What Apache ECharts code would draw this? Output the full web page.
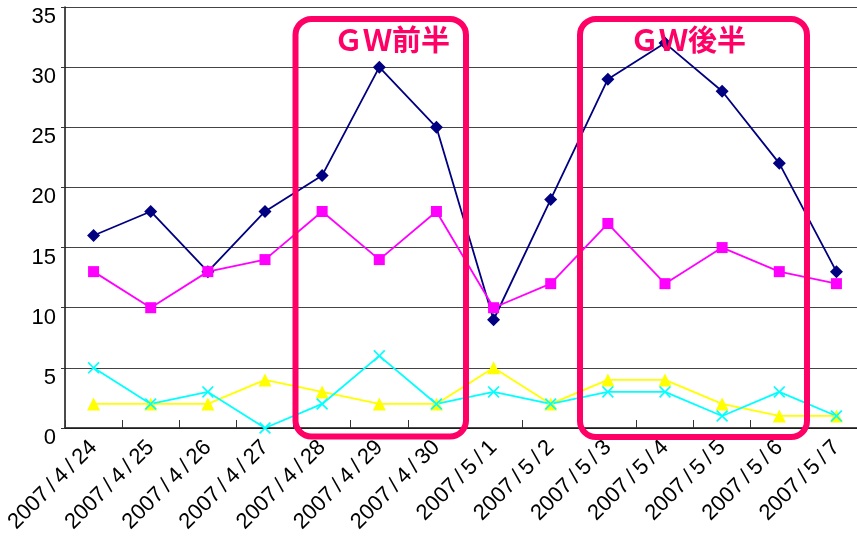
<!DOCTYPE html>
<html>
<head>
<meta charset="utf-8">
<script src="https://cdn.jsdelivr.net/npm/echarts@6/dist/echarts.min.js"></script>
<style>
  html, body { margin: 0; padding: 0; background: #fff; overflow: hidden; }
  #main { width: 865px; height: 542px; }
</style>
</head>
<body>
<div id="main"></div>
<script>
// categories
var days = ['2007/4/24', '2007/4/25', '2007/4/26', '2007/4/27', '2007/4/28', '2007/4/29', '2007/4/30',
            '2007/5/1', '2007/5/2', '2007/5/3', '2007/5/4', '2007/5/5', '2007/5/6', '2007/5/7'];
// series values
var navyVals    = [16, 18, 13, 18, 21, 30, 25, 9, 19, 29, 32, 28, 22, 13];
var magentaVals = [13, 10, 13, 14, 18, 14, 18, 10, 12, 17, 12, 15, 13, 12];
var yellowVals  = [2, 2, 2, 4, 3, 2, 2, 5, 2, 4, 4, 2, 1, 1];
var cyanVals    = [5, 2, 3, 0, 2, 6, 2, 3, 2, 3, 3, 1, 3, 1];
// y ticks
var yMin = 0, yMax = 35, yStep = 5;
// GW boxes
var gwLabels = ['ＧＷ前半', 'ＧＷ後半'];

var PINK = '#FF0066';
var xMark = 'path://M0,1L1,0L5,4L9,0L10,1L6,5L10,9L9,10L5,6L1,10L0,9L4,5Z';

// chart is 8px wider than the window: the plot runs off the right edge like the original
var myChart = echarts.init(document.getElementById('main'));

function lineSeries(name, data, color, symbol, size) {
  return {
    name: name,
    type: 'line',
    data: data,
    symbol: symbol,
    symbolSize: size,
    showSymbol: true,
    animation: false,
    lineStyle: { color: color, width: 1.8 },
    itemStyle: { color: color, opacity: 1 },
    emphasis: { disabled: true }
  };
}

var option = {
  backgroundColor: '#ffffff',
  animation: false,
  grid: { left: 65, top: 7, right: 0, bottom: 114, containLabel: false },
  xAxis: {
    type: 'category',
    data: days,
    boundaryGap: true,
    axisLine: { lineStyle: { color: '#111', width: 1.5 } },
    axisTick: { show: true, inside: true, length: 8, lineStyle: { color: '#333' } },
    axisLabel: {
      interval: 0,
      rotate: 45,
      margin: 16,
      color: '#000',
      fontFamily: 'Liberation Sans, Arial, sans-serif',
      fontSize: 22,
      formatter: function (v) { return v.replace(/\//g, '\u2009/\u2009'); }
    },
    splitLine: { show: false }
  },
  yAxis: {
    type: 'value',
    min: yMin,
    max: yMax,
    interval: yStep,
    axisLine: { show: true, lineStyle: { color: '#111', width: 1.5 } },
    axisTick: { show: true, length: 4, lineStyle: { color: '#333' } },
    axisLabel: {
      color: '#000',
      fontFamily: 'Liberation Sans, Arial, sans-serif',
      fontSize: 22,
      margin: 9,
      verticalAlign: 'top',
      padding: [-1, 0, 0, 0]
    },
    splitLine: { show: true, lineStyle: { color: '#444', width: 1 } }
  },
  series: [
    lineSeries('s1', navyVals, '#000080', 'diamond', 13),
    lineSeries('s2', magentaVals, '#FF00FF', 'rect', 11),
    lineSeries('s3', yellowVals, '#FFFF00', 'triangle', 13),
    lineSeries('s4', cyanVals, '#00FFFF', xMark, 12)
  ],
  graphic: [
    { type: 'rect', z: 100, shape: { x: 295.5, y: 19, width: 170.5, height: 417.5, r: 16 },
      style: { fill: 'none', stroke: PINK, lineWidth: 6 } },
    { type: 'rect', z: 100, shape: { x: 580, y: 19, width: 227, height: 418, r: 16 },
      style: { fill: 'none', stroke: PINK, lineWidth: 6 } },
    { type: 'text', z: 101, x: 392, y: 40,
      style: { text: gwLabels[0], fill: PINK, font: 'bold 29px "Noto Sans CJK JP"', align: 'center', verticalAlign: 'middle' } },
    { type: 'text', z: 101, x: 688, y: 40,
      style: { text: gwLabels[1], fill: PINK, font: 'bold 29px "Noto Sans CJK JP"', align: 'center', verticalAlign: 'middle' } }
  ]
};

myChart.setOption(option);
window.onresize = function () { myChart.resize(); };
</script>
</body>
</html>
